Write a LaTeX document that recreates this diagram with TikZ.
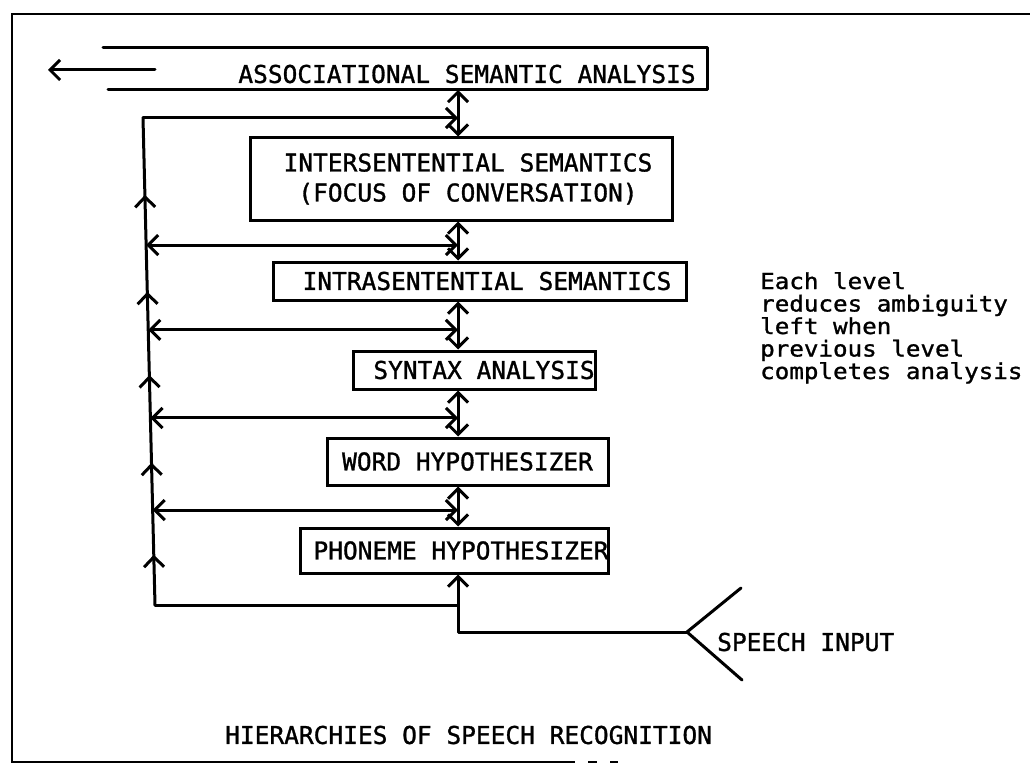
\documentclass[tikz,border=0pt]{standalone}
\usepackage{fontspec}
\newfontfamily\lpfont{DejaVu Sans Mono}[FakeBold=1.2]
\newfontfamily\lpnote{DejaVu Sans Mono}[FakeStretch=1.1, FakeBold=1.2]
\usetikzlibrary{arrows.meta,calc,decorations.markings}

\tikzset{
  >={Straight Barb[length=10pt,width=20pt]},
  link/.style={line width=3pt, line cap=round, line join=round},
  both/.style={link, <->},
  fwd/.style={link, ->},
  level/.style={draw, line width=3pt, inner sep=0pt,
                font=\lpfont\fontsize{24.5}{30}\selectfont},
  lbl/.style={inner sep=0pt, font=\lpfont\fontsize{24.5}{30}\selectfont},
  note/.style={inner sep=0pt, font=\lpnote\fontsize{22}{22.5}\selectfont},
}

\begin{document}
\begin{tikzpicture}[x=1pt, y=-1pt]
  \fill[white] (0,0) rectangle (1030,770);
  \useasboundingbox (0,0) rectangle (1030,770);

  % outer frame (open on the right)
  \draw[line width=2.6pt] (1030,14) -- (12,14) -- (12,762) -- (497,762);
  \draw[line width=1.2pt] (497,762) -- (575,762);
  \draw[line width=1.2pt] (588,762) -- (597,762);
  \draw[line width=1.2pt] (610,762) -- (618,762);

  % top level: open frame around the associational analysis
  \coordinate (asaTL) at (103,48);
  \coordinate (asaTR) at (707,48);
  \coordinate (asaBR) at (707,90);
  \coordinate (asaBL) at (108,90);
  \draw[link] (asaTL) -- (asaTR) -- (asaBR) -- (asaBL);
  \node[lbl] (asa) at (467,74) {ASSOCIATIONAL SEMANTIC ANALYSIS};
  \coordinate (outS) at (155,70);
  \coordinate (outE) at (48,70);
  \draw[fwd] (outS) -- (outE);

  % the levels
  \node[level, minimum width=422pt, minimum height=82pt, align=center] (inter) at (461,179)
    {\hspace*{14pt}INTERSENTENTIAL SEMANTICS\\\hspace*{14pt}(FOCUS OF CONVERSATION)};
  \node[level, minimum width=413pt, minimum height=38pt] (intra) at (479.5,281)
    {\hspace*{15pt}INTRASENTENTIAL SEMANTICS};
  \node[level, minimum width=242pt, minimum height=38pt] (syntax) at (474,370)
    {\hspace*{20pt}SYNTAX ANALYSIS};
  \node[level, minimum width=281pt, minimum height=47pt] (word) at (467.5,461.5)
    {WORD HYPOTHESIZER};
  \node[level, minimum width=307pt, minimum height=45pt] (phon) at (454.5,550.5)
    {\hspace*{13pt}PHONEME HYPOTHESIZER};

  % central spine of two-way links between levels
  \coordinate (spine) at (458,0);
  \draw[both] (asaBR -| spine) -- (inter.north -| spine);
  \draw[both] (inter.south -| spine) -- (intra.north -| spine);
  \draw[both] (intra.south -| spine) -- (syntax.north -| spine);
  \draw[both] (syntax.south -| spine) -- (word.north -| spine);
  \draw[both] (word.south -| spine) -- (phon.north -| spine);

  % feedback path on the left
  \coordinate (lt) at (143,118);
  \coordinate (lb) at (155,605);
  \draw[link, postaction={decorate}, decoration={markings,
      mark=at position 0.103 with {\arrow{>}},
      mark=at position 0.292 with {\arrow{>}},
      mark=at position 0.472 with {\arrow{>}},
      mark=at position 0.643 with {\arrow{>}},
      mark=at position 0.842 with {\arrow{>}}}]
    (lb) -- (lt);
  \draw[fwd] (lt) -- (lt -| spine);
  \coordinate (h1) at ($(lb)!0.739!(lt)$);
  \coordinate (h2) at ($(lb)!0.565!(lt)$);
  \coordinate (h3) at ($(lb)!0.384!(lt)$);
  \coordinate (h4) at ($(lb)!0.195!(lt)$);
  \draw[both] (h1) -- (h1 -| spine);
  \draw[both] (h2) -- (h2 -| spine);
  \draw[both] (h3) -- (h3 -| spine);
  \draw[both] (h4) -- (h4 -| spine);
  \draw[link] (lb) -- (lb -| spine);

  % speech input
  \coordinate (apex) at (687,632);
  \coordinate (vu) at (741,588);
  \coordinate (vd) at (742,680);
  \draw[link] (vu) -- (apex) -- (vd);
  \draw[fwd] (apex) -- (apex -| spine) -- (phon.south -| spine);
  \node[lbl, anchor=west] (speech) at (717,642) {SPEECH INPUT};

  % side note
  \node[note, anchor=base west] (n1) at (760,289) {Each level};
  \node[note, anchor=base west] (n2) at (760,311.5) {reduces ambiguity};
  \node[note, anchor=base west] (n3) at (760,334) {left when};
  \node[note, anchor=base west] (n4) at (760,356.5) {previous level};
  \node[note, anchor=base west] (n5) at (760,379) {completes analysis};

  % caption
  \node[lbl, anchor=west] (title) at (225,735) {HIERARCHIES OF SPEECH RECOGNITION};
\end{tikzpicture}
\end{document}
